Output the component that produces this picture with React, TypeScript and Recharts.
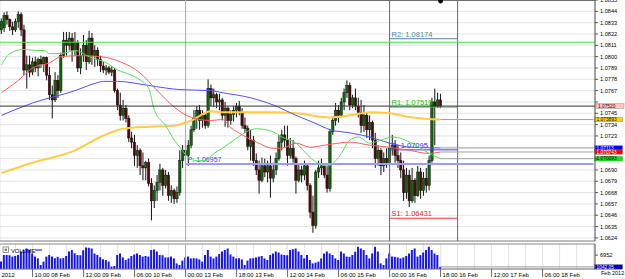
import React from 'react';
import { ComposedChart, Bar, Line, XAxis, YAxis, CartesianGrid, ReferenceLine, ReferenceDot } from 'recharts';

const FONT = '"Liberation Sans", Arial, sans-serif';

// ---- OHLC (H1 bars) ----
const opens = [
  1.0826, 1.0828, 1.0840, 1.0836, 1.0829, 1.0826, 1.0834, 1.0841, 1.0826, 1.0787,
  1.0792, 1.0785, 1.0795, 1.0789, 1.0797, 1.0793, 1.0799, 1.0782, 1.0763, 1.0758,
  1.0777, 1.0767, 1.0801, 1.0816, 1.0811, 1.0818, 1.0806, 1.0814, 1.0789, 1.0801,
  1.0811, 1.0795, 1.0818, 1.0801, 1.0806, 1.0797, 1.0791, 1.0787, 1.0789, 1.0785,
  1.0787, 1.0767, 1.0753, 1.0743, 1.0750, 1.0740, 1.0721, 1.0717, 1.0704, 1.0709,
  1.0694, 1.0692, 1.0697, 1.0677, 1.0660, 1.0670, 1.0678, 1.0690, 1.0675, 1.0685,
  1.0665, 1.0670, 1.0662, 1.0668, 1.0699, 1.0709, 1.0704, 1.0714, 1.0729, 1.0740,
  1.0748, 1.0738, 1.0743, 1.0733, 1.0769, 1.0760, 1.0763, 1.0756, 1.0758, 1.0743,
  1.0750, 1.0738, 1.0744, 1.0748, 1.0752, 1.0746, 1.0733, 1.0730, 1.0713, 1.0719,
  1.0699, 1.0690, 1.0680, 1.0694, 1.0688, 1.0694, 1.0682, 1.0690, 1.0701, 1.0717,
  1.0724, 1.0719, 1.0704, 1.0711, 1.0701, 1.0680, 1.0690, 1.0685, 1.0694, 1.0675,
  1.0649, 1.0636, 1.0688, 1.0692, 1.0694, 1.0685, 1.0672, 1.0727, 1.0738, 1.0748,
  1.0743, 1.0756, 1.0765, 1.0772, 1.0753, 1.0760, 1.0752, 1.0746, 1.0733, 1.0743,
  1.0729, 1.0736, 1.0719, 1.0701, 1.0709, 1.0694, 1.0701, 1.0697, 1.0711, 1.0714,
  1.0704, 1.0699, 1.0690, 1.0668, 1.0685, 1.0660, 1.0680, 1.0665, 1.0688, 1.0670,
  1.0682, 1.0675, 1.0699, 1.0756, 1.0752, 1.0758,
];
const highs = [
  1.0837, 1.0843, 1.0844, 1.0837, 1.0834, 1.0837, 1.0844, 1.0843, 1.0831, 1.0801,
  1.0801, 1.0799, 1.0800, 1.0799, 1.0801, 1.0800, 1.0800, 1.0790, 1.0772, 1.0785,
  1.0782, 1.0804, 1.0824, 1.0824, 1.0824, 1.0823, 1.0824, 1.0816, 1.0808, 1.0821,
  1.0816, 1.0825, 1.0823, 1.0811, 1.0809, 1.0801, 1.0795, 1.0792, 1.0791, 1.0791,
  1.0789, 1.0769, 1.0765, 1.0758, 1.0753, 1.0743, 1.0727, 1.0724, 1.0714, 1.0711,
  1.0707, 1.0699, 1.0701, 1.0682, 1.0675, 1.0685, 1.0696, 1.0692, 1.0690, 1.0688,
  1.0675, 1.0672, 1.0674, 1.0709, 1.0714, 1.0719, 1.0719, 1.0733, 1.0748, 1.0752,
  1.0753, 1.0748, 1.0746, 1.0778, 1.0773, 1.0769, 1.0765, 1.0764, 1.0760, 1.0756,
  1.0752, 1.0748, 1.0752, 1.0755, 1.0757, 1.0750, 1.0741, 1.0733, 1.0729, 1.0723,
  1.0706, 1.0699, 1.0702, 1.0701, 1.0699, 1.0704, 1.0697, 1.0707, 1.0724, 1.0729,
  1.0733, 1.0733, 1.0721, 1.0719, 1.0703, 1.0696, 1.0694, 1.0699, 1.0696, 1.0677,
  1.0665, 1.0690, 1.0699, 1.0701, 1.0696, 1.0694, 1.0730, 1.0742, 1.0755, 1.0753,
  1.0760, 1.0769, 1.0777, 1.0775, 1.0763, 1.0769, 1.0760, 1.0758, 1.0753, 1.0746,
  1.0743, 1.0738, 1.0726, 1.0714, 1.0711, 1.0707, 1.0711, 1.0717, 1.0724, 1.0719,
  1.0714, 1.0707, 1.0699, 1.0692, 1.0690, 1.0692, 1.0682, 1.0694, 1.0692, 1.0688,
  1.0692, 1.0704, 1.0760, 1.0769, 1.0765, 1.0764,
];
const lows = [
  1.0822, 1.0824, 1.0831, 1.0825, 1.0821, 1.0824, 1.0828, 1.0820, 1.0782, 1.0769,
  1.0780, 1.0782, 1.0785, 1.0781, 1.0789, 1.0785, 1.0777, 1.0758, 1.0740, 1.0756,
  1.0760, 1.0765, 1.0799, 1.0801, 1.0806, 1.0795, 1.0801, 1.0785, 1.0783, 1.0795,
  1.0787, 1.0793, 1.0792, 1.0790, 1.0791, 1.0785, 1.0784, 1.0782, 1.0783, 1.0781,
  1.0765, 1.0748, 1.0738, 1.0738, 1.0736, 1.0717, 1.0711, 1.0694, 1.0692, 1.0685,
  1.0680, 1.0680, 1.0674, 1.0641, 1.0653, 1.0660, 1.0670, 1.0665, 1.0672, 1.0660,
  1.0658, 1.0657, 1.0658, 1.0665, 1.0692, 1.0697, 1.0694, 1.0711, 1.0727, 1.0730,
  1.0729, 1.0731, 1.0730, 1.0731, 1.0752, 1.0751, 1.0750, 1.0748, 1.0738, 1.0732,
  1.0731, 1.0734, 1.0737, 1.0741, 1.0743, 1.0730, 1.0726, 1.0709, 1.0699, 1.0694,
  1.0685, 1.0667, 1.0678, 1.0683, 1.0678, 1.0663, 1.0678, 1.0685, 1.0699, 1.0709,
  1.0712, 1.0694, 1.0701, 1.0697, 1.0667, 1.0678, 1.0678, 1.0680, 1.0670, 1.0643,
  1.0629, 1.0633, 1.0682, 1.0685, 1.0682, 1.0668, 1.0669, 1.0724, 1.0733, 1.0736,
  1.0741, 1.0748, 1.0760, 1.0748, 1.0750, 1.0748, 1.0741, 1.0726, 1.0727, 1.0721,
  1.0719, 1.0711, 1.0692, 1.0694, 1.0685, 1.0688, 1.0692, 1.0694, 1.0704, 1.0697,
  1.0692, 1.0682, 1.0660, 1.0662, 1.0654, 1.0658, 1.0658, 1.0664, 1.0662, 1.0665,
  1.0668, 1.0670, 1.0697, 1.0714, 1.0750, 1.0750,
];
const closes = [
  1.0834, 1.0840, 1.0836, 1.0829, 1.0826, 1.0834, 1.0841, 1.0826, 1.0787, 1.0792,
  1.0785, 1.0795, 1.0789, 1.0797, 1.0793, 1.0799, 1.0782, 1.0763, 1.0758, 1.0777,
  1.0767, 1.0801, 1.0816, 1.0811, 1.0818, 1.0806, 1.0814, 1.0789, 1.0801, 1.0811,
  1.0795, 1.0818, 1.0801, 1.0806, 1.0797, 1.0791, 1.0787, 1.0789, 1.0785, 1.0787,
  1.0767, 1.0753, 1.0743, 1.0750, 1.0740, 1.0721, 1.0717, 1.0704, 1.0709, 1.0694,
  1.0692, 1.0697, 1.0677, 1.0660, 1.0670, 1.0678, 1.0690, 1.0675, 1.0685, 1.0665,
  1.0670, 1.0662, 1.0668, 1.0699, 1.0709, 1.0704, 1.0714, 1.0729, 1.0740, 1.0748,
  1.0738, 1.0743, 1.0733, 1.0769, 1.0760, 1.0763, 1.0756, 1.0758, 1.0743, 1.0750,
  1.0738, 1.0744, 1.0748, 1.0752, 1.0746, 1.0733, 1.0730, 1.0713, 1.0719, 1.0699,
  1.0690, 1.0680, 1.0694, 1.0688, 1.0694, 1.0682, 1.0690, 1.0701, 1.0717, 1.0724,
  1.0719, 1.0704, 1.0711, 1.0701, 1.0680, 1.0690, 1.0685, 1.0694, 1.0675, 1.0649,
  1.0636, 1.0688, 1.0692, 1.0694, 1.0685, 1.0672, 1.0727, 1.0738, 1.0748, 1.0743,
  1.0756, 1.0765, 1.0772, 1.0753, 1.0760, 1.0752, 1.0746, 1.0733, 1.0743, 1.0729,
  1.0736, 1.0719, 1.0701, 1.0709, 1.0694, 1.0701, 1.0697, 1.0711, 1.0714, 1.0704,
  1.0699, 1.0690, 1.0668, 1.0685, 1.0660, 1.0680, 1.0665, 1.0688, 1.0670, 1.0682,
  1.0675, 1.0699, 1.0756, 1.0752, 1.0758, 1.0752,
];
const volumes = [
  3700, 7000, 7000, 6900, 6200, 6500, 7000, 8700, 9500, 10300,
  9600, 7800, 6200, 5300, 2000, 3700, 6200, 7000, 6300, 5400,
  6100, 5300, 5500, 6500, 8700, 9500, 7900, 7000, 6900, 9400,
  10800, 10600, 10300, 7800, 7000, 5900, 4900, 4500, 3700, 1200,
  1500, 7000, 7800, 5800, 4500, 5300, 6500, 7300, 7800, 7000,
  6200, 6500, 6200, 9500, 9800, 8700, 7000, 6900, 5800, 5800,
  6200, 5300, 2800, 2000, 4200, 5800, 6200, 5300, 5400, 5300,
  4800, 3700, 7000, 9500, 6200, 5300, 6200, 7500, 8700, 9500,
  10300, 7300, 6200, 5300, 5400, 4800, 2000, 4200, 5300, 5400,
  5800, 6200, 6500, 5300, 4500, 7000, 7800, 8700, 8200, 7300,
  7000, 6900, 9500, 9900, 10300, 8700, 7000, 5300, 7000, 4500,
  2800, 3200, 3700, 5300, 7800, 8700, 7800, 7000, 5300, 4500,
  8700, 7800, 6200, 6100, 7000, 8600, 11100, 10300, 9500, 7000,
  5300, 7800, 11100, 8700, 2800, 2000, 5300, 7800, 6200, 6100,
  5800, 5300, 5800, 6500, 7800, 9500, 10300, 6200, 7000, 8200,
  9500, 11100, 9500, 7800, 7000, 1042.05,
];

// ---- moving averages, sampled as [bar index, value] ----
const greenMA: [number, number][] = [
  [0, 1.0792], [3, 1.0803], [8, 1.0807], [12, 1.0806], [15, 1.0806], [17, 1.0803], [21, 1.0803],
  [26, 1.0806], [31, 1.0800], [37, 1.0794], [41, 1.0787], [45, 1.0783], [48, 1.0779], [52, 1.0769],
  [54, 1.0748], [58, 1.0733], [61, 1.0719], [63, 1.0712], [66, 1.0702], [69, 1.0699], [72, 1.0699],
  [75, 1.0706], [78, 1.0711], [82, 1.0719], [90, 1.0730], [96, 1.0727], [99, 1.0722], [104, 1.0716],
  [109, 1.0702], [112, 1.0696], [115, 1.0694], [119, 1.0702], [123, 1.0719], [126, 1.0722],
  [130, 1.0716], [134, 1.0719], [138, 1.0722], [145, 1.0716], [151, 1.0706], [155, 1.070093],
];
const redMA: [number, number][] = [
  [0, 1.0765], [6, 1.0777], [11, 1.0789], [17, 1.0794], [21, 1.0800], [28, 1.0801], [35, 1.0800],
  [42, 1.0795], [49, 1.0784], [55, 1.0767], [61, 1.0751], [67, 1.0741], [74, 1.0738], [78, 1.0739],
  [81, 1.0731], [85, 1.0724], [90, 1.0717], [96, 1.0711], [99, 1.0711], [104, 1.0716], [109, 1.0712],
  [114, 1.0714], [119, 1.0716], [123, 1.0717], [130, 1.0714], [137, 1.0712], [144, 1.0709],
  [151, 1.0706], [155, 1.070743],
];
const blueMA: [number, number][] = [
  [0, 1.0743], [11, 1.0755], [26, 1.0767], [33, 1.0774], [36, 1.0776], [41, 1.0776], [52, 1.0772],
  [63, 1.0768], [74, 1.0767], [78, 1.0765], [88, 1.0760], [96, 1.0753], [104, 1.0743], [111, 1.0735],
  [116, 1.0729], [123, 1.0726], [130, 1.0722], [137, 1.0716], [145, 1.0712], [155, 1.07113],
];
const orangeMA: [number, number][] = [
  [0, 1.0687], [11, 1.0697], [26, 1.0709], [35, 1.0722], [43, 1.0730], [52, 1.0732], [61, 1.0733],
  [67, 1.0738], [74, 1.0747], [78, 1.0746], [85, 1.0746], [95, 1.0746], [104, 1.0745], [116, 1.0741],
  [123, 1.0743], [130, 1.0746], [137, 1.0745], [145, 1.0741], [155, 1.073893],
];

// ---- axes ----
const priceTicks = [
  1.0624, 1.0635, 1.0646, 1.0657, 1.0668, 1.0679, 1.0690, 1.0701, 1.0712, 1.0723, 1.0734,
  1.0745, 1.0756, 1.0767, 1.0778, 1.0789, 1.0800, 1.0811, 1.0822, 1.0833, 1.0844, 1.0855,
];
const hiddenTickLabels = [1.0756, 1.0712, 1.0701];
const timeTickIdx = [0, 11, 29, 47, 65, 83, 101, 119, 137, 155, 173, 191];
const timeTickLabels = [
  '2012', '10:00 08 Feb', '12:00 09 Feb', '06:00 10 Feb', '00:00 13 Feb', '18:00 13 Feb',
  '12:00 14 Feb', '06:00 15 Feb', '00:00 16 Feb', '18:00 16 Feb', '12:00 17 Feb', '06:00 18 Feb',
];
const SLOTS = 210;
const gridIdx = Array.from({ length: 35 }, (_, k) => 5 + 6 * k);

// ---- levels ----
const bidPrice = 1.0752;
const greenLevel = 1.0814;
const weeklyPivot = 1.06957;
const dayStart = 137;
const dayEnd = 161;
const weekStart = 65;
const pivots = [
  { name: 'R2', value: 1.08174, color: '#4a86b8', text: '#4a86b8' },
  { name: 'R1', value: 1.0751, color: '#22dd22', text: '#10c010' },
  { name: 'P', value: 1.07095, color: '#3a3aff', text: '#2a2aff' },
  { name: 'S1', value: 1.06431, color: '#ff3030', text: '#ff2020' },
];
const maEnds = [
  { value: 1.073893, text: '1.073893', bg: '#ffd700', fg: '#000' },
  { value: 1.07113, text: '1.07113', bg: '#0000ff', fg: '#fff' },
  { value: 1.070743, text: '1.070743', bg: '#ff0000', fg: '#fff' },
  { value: 1.070093, text: '1.070093', bg: '#00ee00', fg: '#000' },
];

const rows = Array.from({ length: SLOTS }, (_, i) => {
  const has = i < closes.length;
  return {
    i,
    range: has ? [lows[i], highs[i]] : null,
    o: has ? opens[i] : null,
    h: has ? highs[i] : null,
    l: has ? lows[i] : null,
    c: has ? closes[i] : null,
    vol: has ? volumes[i] : null,
  };
});
const toPts = (arr: [number, number][]) => arr.map(([i, v]) => ({ i, v }));

const Candle = (props: any) => {
  const { x, y, width, height, payload } = props;
  if (!payload || payload.h == null) return null;
  const top = Math.min(y, y + height);
  const h = Math.abs(height);
  const span = payload.h - payload.l || 1e-9;
  const pos = (v: number) => top + ((payload.h - v) / span) * h;
  const cx = x + width / 2;
  const bull = payload.c >= payload.o;
  const bt = pos(Math.max(payload.o, payload.c));
  const bb = pos(Math.min(payload.o, payload.c));
  return (
    <g>
      <line x1={cx} x2={cx} y1={top} y2={top + h} stroke="#111" strokeWidth={1} />
      <rect x={cx - 1.2} y={bt} width={2.4} height={Math.max(1, bb - bt)} fill={bull ? '#0c6a0c' : '#560808'} stroke="#111" strokeWidth={0.5} />
    </g>
  );
};

const sideBox = (text: string, bg: string, fg: string) => (props: any) => {
  const vb = props.viewBox;
  if (!vb) return null;
  const x = vb.x + vb.width + 1;
  const y = vb.y;
  return (
    <g>
      <rect x={x} y={y - 2.3} width={28} height={4.6} fill={bg} stroke="#777" strokeWidth={0.4} />
      <text x={x + 2} y={y + 1.7} fontSize={4.8} fill={fg} fontFamily={FONT}>{text}</text>
    </g>
  );
};

const textLabel = (text: string, color: string, size = 7.5) => (props: any) => {
  const vb = props.viewBox;
  if (!vb) return null;
  return (
    <text x={vb.x + 2} y={vb.y - 2} fontSize={size} fill={color} fontFamily={FONT}>{text}</text>
  );
};

const volumeLegend = (props: any) => {
  const vb = props.viewBox;
  if (!vb) return null;
  return (
    <g>
      <rect x={vb.x + 3} y={vb.y + 3} width={5.5} height={5.5} fill="#fff" stroke="#666" strokeWidth={0.7} />
      <rect x={vb.x + 4.5} y={vb.y + 4.5} width={2.5} height={2.5} fill="#888" />
      <text x={vb.x + 11} y={vb.y + 8.5} fontSize={5.8} fill="#000" fontFamily={FONT}>VOLUME</text>
      <line x1={vb.x + 35} x2={vb.x + 42} y1={vb.y + 6} y2={vb.y + 6} stroke="#0000ff" strokeWidth={1} />
    </g>
  );
};

const TimeTick = (props: any) => {
  const { x, y, payload } = props;
  const k = timeTickIdx.indexOf(payload.value);
  if (k < 0) return null;
  const first = k === 0;
  return (
    <g>
      {!first && <line x1={x} x2={x} y1={y} y2={y + 8} stroke="#666" strokeWidth={1} />}
      <text x={first ? x : x + 2} y={y + 7.5} fontSize={6} fill="#000" fontFamily={FONT}>{timeTickLabels[k]}</text>
    </g>
  );
};

const PriceTick = (props: any) => {
  const { x, y, payload } = props;
  if (hiddenTickLabels.includes(payload.value)) return null;
  return (
    <text x={x + 1} y={y + 2} fontSize={5.6} fill="#000" fontFamily={FONT}>{payload.value.toFixed(4)}</text>
  );
};

const VolTick = (props: any) => {
  const { x, y, payload } = props;
  return (
    <text x={x + 1} y={y + 2} fontSize={5.6} fill="#000" fontFamily={FONT}>{String(payload.value)}</text>
  );
};

const maLines = [
  { key: 'orange', pts: orangeMA, color: '#ffcc44', w: 2 },
  { key: 'blue', pts: blueMA, color: '#5050ff', w: 1 },
  { key: 'red', pts: redMA, color: '#ff5a5a', w: 1 },
  { key: 'green', pts: greenMA, color: '#55e055', w: 1 },
];

export default function App() {
  return (
    <div style={{ position: 'absolute', left: 0, top: 0, width: 625, height: 279, background: '#fff', overflow: 'hidden' }}>
      <div style={{ position: 'absolute', left: 0, top: 0 }}>
        <ComposedChart width={625} height={242} data={rows} margin={{ top: 0, right: 0, bottom: 0, left: 0 }} barCategoryGap={0}>
          <CartesianGrid stroke="#e3e3e3" xAxisId="g" />
          <XAxis dataKey="i" type="category" hide />
          <XAxis dataKey="i" type="category" xAxisId="g" ticks={gridIdx} interval={0} tick={false} tickLine={false} axisLine={false} height={1} />
          <XAxis dataKey="i" type="number" xAxisId="n" domain={[-0.5, SLOTS - 0.5]} allowDataOverflow hide />
          <YAxis orientation="right" width={30} type="number" domain={[1.0621, 1.0855]} allowDataOverflow ticks={priceTicks} interval={0}
            tick={<PriceTick />} tickSize={3} tickMargin={1} axisLine={{ stroke: '#555' }} tickLine={{ stroke: '#555' }} />
          <ReferenceLine y={1.0855} stroke="#444" strokeWidth={1.5} />
          <ReferenceLine y={1.0621} stroke="#888" strokeWidth={1} />
          <ReferenceLine x={weekStart} stroke="#aaa0dd" strokeWidth={1} />
          <ReferenceLine x={dayStart} stroke="#7a4cc0" strokeWidth={1} />
          <ReferenceLine x={dayEnd} stroke="#7a4cc0" strokeWidth={1} />
          <ReferenceLine y={greenLevel} stroke="#33ee33" strokeWidth={1} />
          <ReferenceLine segment={[{ x: weekStart, y: weeklyPivot }, { x: SLOTS - 1, y: weeklyPivot }]} stroke="#9a9aff" strokeWidth={2}
            label={textLabel('P: 1.06957', '#3a3aff', 7)} />
          {pivots.map((p) => (
            <ReferenceLine key={p.name} segment={[{ x: dayStart, y: p.value }, { x: dayEnd, y: p.value }]} stroke={p.color} strokeWidth={1}
              label={textLabel(`${p.name}: ${p.value.toFixed(5)}`, p.text, 7.5)} />
          ))}
          {maLines.map((m) => (
            <Line key={m.key} xAxisId="n" data={toPts(m.pts)} dataKey="v" stroke={m.color} strokeWidth={m.w} dot={false} activeDot={false}
              type="monotone" isAnimationActive={false} />
          ))}
          <Bar dataKey="range" barSize={3} shape={(p: any) => <Candle {...p} />} isAnimationActive={false} />
          {maEnds.map((m) => (
            <ReferenceLine key={m.text} segment={[{ x: 155, y: m.value }, { x: SLOTS - 1, y: m.value }]} stroke="#a0a0a0"
              label={sideBox(m.text, m.bg, m.fg)} />
          ))}
          <ReferenceLine y={bidPrice} stroke="#333" strokeWidth={1} label={sideBox('1.07520', '#ffc4c4', '#400')} />
          <ReferenceDot x={155} y={1.0854} r={2} fill="#000" stroke="#000" />
        </ComposedChart>
      </div>
      <div style={{ position: 'absolute', left: 0, top: 242 }}>
        <ComposedChart width={625} height={37} data={rows} margin={{ top: 2, right: 0, bottom: 0, left: 0 }} barCategoryGap={0}>
          <CartesianGrid stroke="#e3e3e3" xAxisId="g" horizontal={false} />
          <XAxis dataKey="i" type="category" ticks={timeTickIdx} interval={0} tick={<TimeTick />} tickLine={false} tickSize={0} tickMargin={0}
            axisLine={{ stroke: '#666' }} height={10} />
          <XAxis dataKey="i" type="category" xAxisId="g" ticks={gridIdx} interval={0} hide />
          <YAxis orientation="right" width={30} type="number" domain={[0, 12500]} allowDataOverflow ticks={[6952]} interval={0}
            tick={<VolTick />} tickSize={3} tickMargin={1} axisLine={{ stroke: '#555' }} tickLine={{ stroke: '#555' }} />
          <ReferenceLine y={12500} stroke="#888" label={volumeLegend} />
          <ReferenceLine x={weekStart} stroke="#aaa0dd" strokeWidth={1} />
          <ReferenceLine x={dayStart} stroke="#7a4cc0" strokeWidth={1} />
          <Bar dataKey="vol" barSize={2} fill="#1414ff" isAnimationActive={false} />
          <ReferenceLine segment={[{ x: 155, y: 1042.05 }, { x: SLOTS - 1, y: 1042.05 }]} stroke="#999"
            label={sideBox('1042.05', '#0000c0', '#fff')} />
        </ComposedChart>
      </div>
      <div style={{ position: 'absolute', left: 601, top: 270, fontSize: 5.5, fontFamily: FONT, lineHeight: '7px', color: '#000', whiteSpace: 'nowrap' }}>Feb 2012</div>
    </div>
  );
}
